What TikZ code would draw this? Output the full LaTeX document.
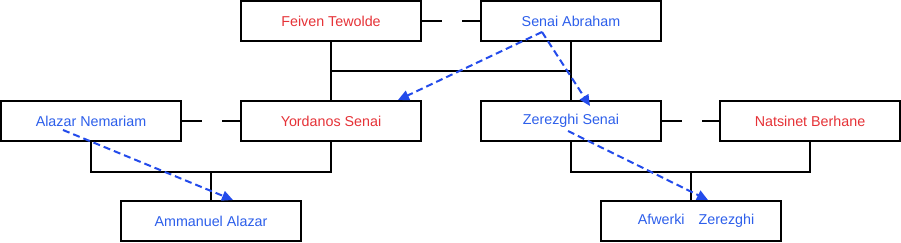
\documentclass[tikz,border=0pt]{standalone}
\usepackage{fontspec}
\setmainfont{Liberation Sans}
\usetikzlibrary{arrows.meta,calc}
\definecolor{pred}{RGB}{230,50,55}
\definecolor{pblue}{RGB}{45,95,235}
\definecolor{arrblue}{RGB}{35,75,235}
\begin{document}
\begin{tikzpicture}[x=1pt,y=-1pt,
  person/.style={draw=black,line width=2pt,fill=white,minimum width=180pt,minimum height=40pt,inner sep=0pt,
    font=\fontsize{14.3}{17}\selectfont},
  female/.style={person,text=pred},
  male/.style={person,text=pblue},
  link/.style={line width=2pt,draw=black},
  spouse/.style={link,dash pattern=on 20pt off 20pt},
  lineage/.style={line width=2pt,draw=arrblue,dash pattern=on 7pt off 4pt,-{Triangle[length=11pt,width=10pt]}}]
\useasboundingbox (0,0) rectangle (901,242);
% people
\node[female] (feiven) at (331,21) {Feiven Tewolde};
\node[male] (senai) at (571,21) {Senai Abraham};
\node[male] (alazar) at (91,121) {Alazar Nemariam};
\node[female] (yordanos) at (331,121) {Yordanos Senai};
\node[male] (zerezghi) at (571,121) {Zerezghi Senai};
\node[female] (natsinet) at (810,121) {Natsinet Berhane};
\node[male] (ammanuel) at (211,221) {Ammanuel Alazar};
\node[male] (afwerki) at (691,221) {\hspace*{10pt}Afwerki\hspace{10pt} Zerezghi};
% marriages
\draw[spouse] (feiven.east) -- (senai.west);
\draw[spouse] (alazar.east) -- (yordanos.west);
\draw[spouse] (zerezghi.east) -- (natsinet.west);
% descent
\draw[link] (feiven.south) -- (yordanos.north);
\draw[link] (senai.south) -- (zerezghi.north);
\draw[link] ($(feiven.south)!0.5!(yordanos.north)$) -- ($(senai.south)!0.5!(zerezghi.north)$);
\draw[link] (alazar.south) -- ++(0,30) coordinate (ay) -| (yordanos.south);
\draw[link] (ay -| ammanuel.north) -- (ammanuel.north);
\draw[link] (zerezghi.south) -- ++(0,30) coordinate (zn) -| (natsinet.south);
\draw[link] (zn -| afwerki.north) -- (afwerki.north);
% lineage arrows
\coordinate (sa) at ($(senai.center)+(-29,11)$);
\coordinate (an) at ($(alazar.center)+(-28,9)$);
\coordinate (zs) at ($(zerezghi.center)+(-3,10)$);
\draw[lineage] (sa) -- ($(yordanos.north)+(67,0)$);
\draw[lineage] (sa) -- ($(zerezghi.north)+(19,6)$);
\draw[lineage] (an) -- ($(ammanuel.north)+(22,0)$);
\draw[lineage] (zs) -- ($(afwerki.north)+(17,0)$);
\end{tikzpicture}
\end{document}
